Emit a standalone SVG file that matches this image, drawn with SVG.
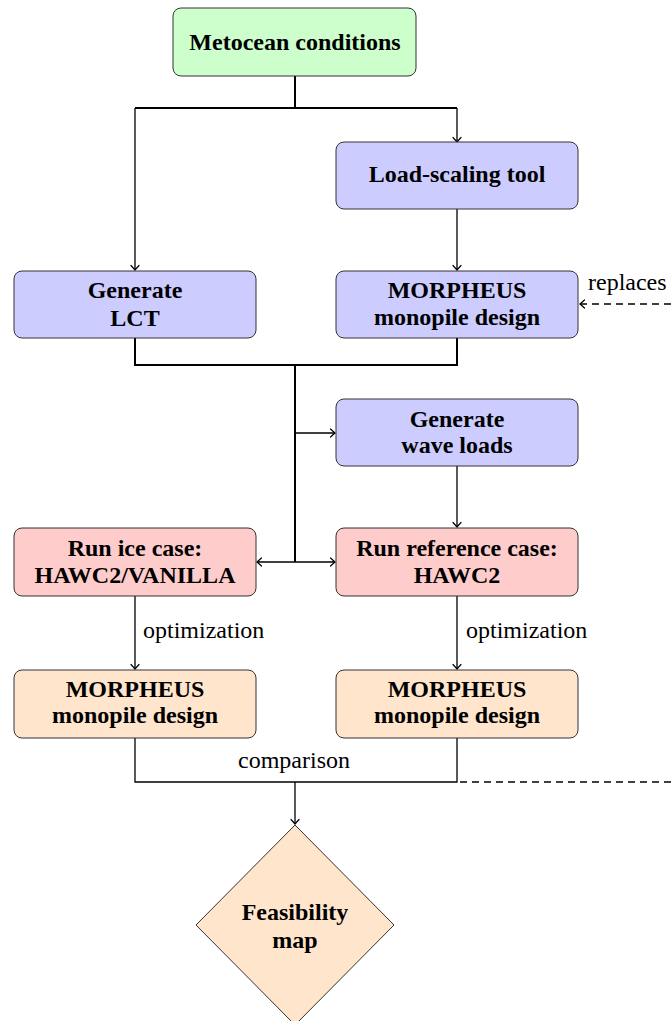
<svg xmlns="http://www.w3.org/2000/svg" width="671" height="1021" viewBox="0 0 671 1021">
<defs>
<marker id="arr" viewBox="-6 -5 8 10" refX="0" refY="0" markerWidth="8" markerHeight="10" markerUnits="userSpaceOnUse" orient="auto" overflow="visible">
<path d="M-4.5,-4 Q-1.2,-1 0,0 Q-1.2,1 -4.5,4" fill="none" stroke="#000" stroke-width="1.2" stroke-linecap="round"/>
</marker>
</defs>
<style>
.box{stroke:#333;stroke-width:1}
.green{fill:#ccffcc}
.blue{fill:#ccccff}
.red{fill:#ffcccc}
.orange{fill:#ffe5cc}
.t{font-family:"Liberation Serif","Times New Roman",serif;font-weight:bold;font-size:24px;text-anchor:middle;fill:#000}
.l{font-family:"Liberation Serif","Times New Roman",serif;font-size:24px;fill:#000}
.c{fill:none;stroke:#000;stroke-width:1.3}
.k{fill:none;stroke:#000;stroke-width:2}
.d{fill:none;stroke:#000;stroke-width:1.3;stroke-dasharray:7,5}
</style>
<g id="connectors">
<path class="k" d="M295,76 V108 H457"/>
<path class="c" d="M457,108 V142" marker-end="url(#arr)"/>
<path class="k" d="M295,108 H135"/>
<path class="c" d="M135,108 V270" marker-end="url(#arr)"/>
<path class="c" d="M457,209 V270" marker-end="url(#arr)"/>
<path class="k" d="M135,338 V365 H457 V338"/>
<path class="k" d="M295,365 V562"/>
<path class="c" d="M295,433 H335" marker-end="url(#arr)"/>
<path class="c" d="M295,562 H257" marker-end="url(#arr)"/>
<path class="c" d="M295,562 H335" marker-end="url(#arr)"/>
<path class="c" d="M457,466 V527" marker-end="url(#arr)"/>
<path class="c" d="M135,596 V669" marker-end="url(#arr)"/>
<path class="c" d="M457,596 V669" marker-end="url(#arr)"/>
<path class="c" d="M135,738 V782 H457 V738"/>
<path class="c" d="M295,782 V824" marker-end="url(#arr)"/>
<path class="d" d="M671,782 H457"/>
<path class="d" d="M671,304 H580" marker-end="url(#arr)"/>
<text class="l" x="143" y="638">optimization</text>
<text class="l" x="466" y="638">optimization</text>
<text class="l" x="294" y="768" text-anchor="middle">comparison</text>
<text class="l" x="588" y="290">replaces</text>
</g>
<g id="metocean">
<rect class="box green" x="173" y="8" width="243" height="68" rx="8"/>
<text class="t" x="295" y="50">Metocean conditions</text>
</g>
<g id="loadscaling">
<rect class="box blue" x="336" y="142" width="242" height="67" rx="8"/>
<text class="t" x="457" y="182">Load-scaling tool</text>
</g>
<g id="lct">
<rect class="box blue" x="14" y="271" width="242" height="67" rx="8"/>
<text class="t" x="135" y="298">Generate</text>
<text class="t" x="135" y="326">LCT</text>
</g>
<g id="morpheus1">
<rect class="box blue" x="336" y="271" width="242" height="67" rx="8"/>
<text class="t" x="457" y="298">MORPHEUS</text>
<text class="t" x="457" y="325">monopile design</text>
</g>
<g id="waveloads">
<rect class="box blue" x="336" y="399" width="242" height="67" rx="8"/>
<text class="t" x="457" y="427">Generate</text>
<text class="t" x="457" y="453">wave loads</text>
</g>
<g id="icecase">
<rect class="box red" x="14" y="528" width="242" height="68" rx="8"/>
<text class="t" x="135" y="556">Run ice case:</text>
<text class="t" x="135" y="583">HAWC2/VANILLA</text>
</g>
<g id="refcase">
<rect class="box red" x="336" y="528" width="242" height="68" rx="8"/>
<text class="t" x="457" y="556">Run reference case:</text>
<text class="t" x="457" y="583">HAWC2</text>
</g>
<g id="morpheus2">
<rect class="box orange" x="14" y="670" width="242" height="68" rx="8"/>
<text class="t" x="135" y="697">MORPHEUS</text>
<text class="t" x="135" y="723">monopile design</text>
</g>
<g id="morpheus3">
<rect class="box orange" x="336" y="670" width="242" height="68" rx="8"/>
<text class="t" x="457" y="697">MORPHEUS</text>
<text class="t" x="457" y="723">monopile design</text>
</g>
<g id="feasibility">
<polygon class="box orange" points="295,825 394,925 295,1025 196,925"/>
<text class="t" x="295" y="920">Feasibility</text>
<text class="t" x="295" y="948">map</text>
</g>
</svg>
